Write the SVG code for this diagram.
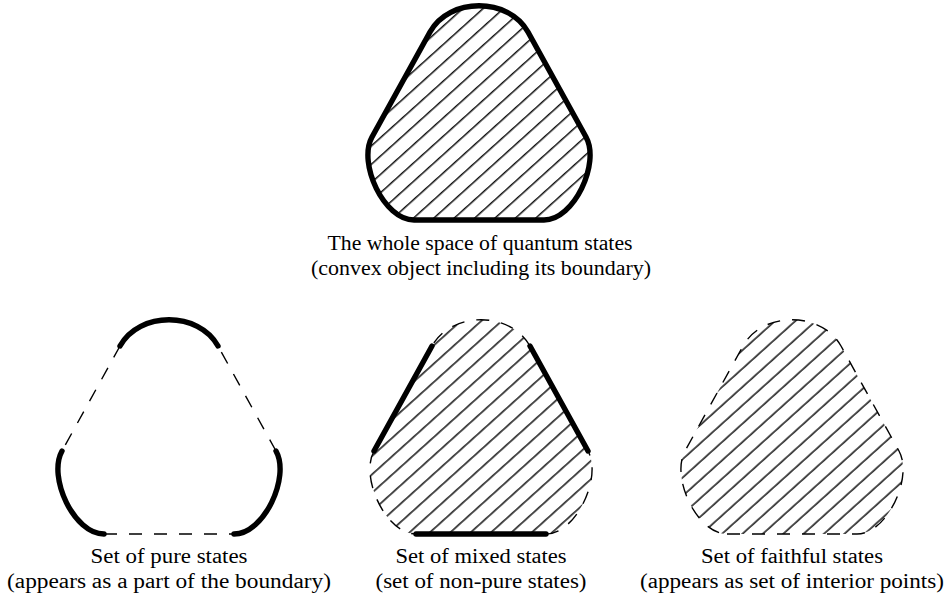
<svg xmlns="http://www.w3.org/2000/svg" width="945" height="599" viewBox="0 0 945 599">
<style>
.thick{fill:none;stroke:#000;stroke-width:5.4;stroke-linecap:round;stroke-linejoin:round}
.dash{fill:none;stroke:#000;stroke-width:1.4;stroke-dasharray:13 12}
.lbl{font-family:"Liberation Serif","Times New Roman",serif;font-size:20.5px;fill:#000;text-anchor:middle}
</style>
<defs>
<pattern id="hatchA" patternUnits="userSpaceOnUse" width="20" height="13.64" patternTransform="rotate(-42)">
<line x1="-1" y1="4.65" x2="21" y2="4.65" stroke="#000" stroke-width="1.4"/>
</pattern>
<pattern id="hatchB" patternUnits="userSpaceOnUse" width="20" height="13.64" patternTransform="rotate(-42)">
<line x1="-1" y1="0.9" x2="21" y2="0.9" stroke="#000" stroke-width="1.4"/>
</pattern>
<pattern id="hatchC" patternUnits="userSpaceOnUse" width="20" height="13.64" patternTransform="rotate(-42)">
<line x1="-1" y1="3" x2="21" y2="3" stroke="#000" stroke-width="1.4"/>
</pattern>
<path id="shape" d="M-65,214 L65,214 C95,214 121.5,157.3 107,131 L49,26 C29.7,-9 -29.7,-9 -49,26 L-107,131 C-121.5,157.3 -95,214 -65,214 Z"/>
</defs>

<g id="whole">
<g transform="translate(479,6)">
<use href="#shape" fill="url(#hatchA)" stroke="none"/>
<use href="#shape" class="thick"/>
</g>
<text class="lbl" x="480" y="250" textLength="305" lengthAdjust="spacingAndGlyphs">The whole space of quantum states</text>
<text class="lbl" x="481" y="275" textLength="340" lengthAdjust="spacingAndGlyphs">(convex object including its boundary)</text>
</g>

<g id="pure">
<g transform="translate(169,320)">
<path class="dash" d="M-49,26 L-107,131"/>
<path class="dash" d="M107,131 L49,26"/>
<path class="dash" d="M-65,214 L65,214"/>
<path class="thick" d="M49,26 C29.7,-9 -29.7,-9 -49,26"/>
<path class="thick" d="M-107,131 C-121.5,157.3 -95,214 -65,214"/>
<path class="thick" d="M65,214 C95,214 121.5,157.3 107,131"/>
</g>
<text class="lbl" x="169" y="563" textLength="157" lengthAdjust="spacingAndGlyphs">Set of pure states</text>
<text class="lbl" x="169" y="588" textLength="324" lengthAdjust="spacingAndGlyphs">(appears as a part of the boundary)</text>
</g>

<g id="mixed">
<g transform="translate(481,320)">
<use href="#shape" fill="url(#hatchB)" stroke="none"/>
<path class="dash" d="M49,26 C29.7,-9 -29.7,-9 -49,26"/>
<path class="dash" d="M-107,131 C-121.5,157.3 -95,214 -65,214"/>
<path class="dash" d="M65,214 C95,214 121.5,157.3 107,131"/>
<path class="thick" d="M-49,26 L-107,131"/>
<path class="thick" d="M107,131 L49,26"/>
<path class="thick" d="M-65,214 L65,214"/>
</g>
<text class="lbl" x="481" y="563" textLength="171" lengthAdjust="spacingAndGlyphs">Set of mixed states</text>
<text class="lbl" x="481" y="588" textLength="211" lengthAdjust="spacingAndGlyphs">(set of non-pure states)</text>
</g>

<g id="faithful">
<g transform="translate(792,320)">
<use href="#shape" fill="url(#hatchC)" stroke="none"/>
<use href="#shape" class="dash"/>
</g>
<text class="lbl" x="792" y="563" textLength="182" lengthAdjust="spacingAndGlyphs">Set of faithful states</text>
<text class="lbl" x="792" y="588" textLength="304" lengthAdjust="spacingAndGlyphs">(appears as set of interior points)</text>
</g>
</svg>
